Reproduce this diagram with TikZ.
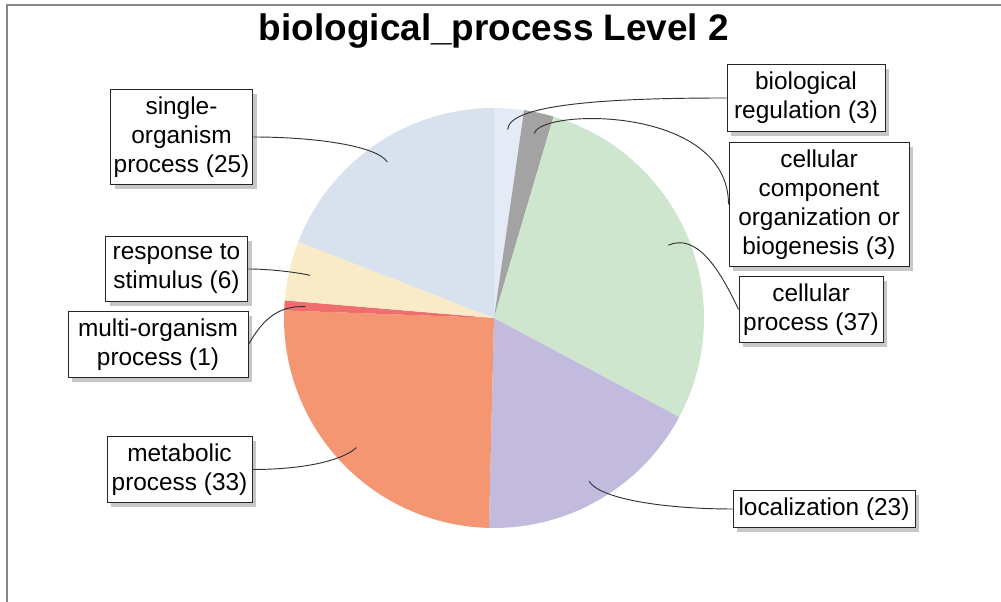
\documentclass[tikz,border=0pt]{standalone}
\usepackage{fontspec}
\setmainfont{Liberation Sans}
\usepackage{tikz}
\usetikzlibrary{calc,shadows}
\tikzset{
  lblbox/.style={draw=black!85, line width=0.7pt, fill=white, align=center,
                 minimum width=#1, inner xsep=2pt, inner ysep=5.6pt,
                 font=\fontsize{18.3}{21.75}\selectfont,
                 drop shadow={shadow xshift=3.3pt, shadow yshift=-3.3pt,
                              fill=black!22, opacity=1}},
  lblbox/.default=107pt,
  lead/.style  ={draw=black!80, line width=0.7pt},
  framel/.style={draw=black!47, line width=1.6pt},
  ttl/.style   ={font=\bfseries\fontsize{27.7}{33}\selectfont},
}
\definecolor{bioreg}  {RGB}{228,235,247}
\definecolor{cellcomp}{RGB}{163,163,163}
\definecolor{cellproc}{RGB}{205,230,205}
\definecolor{locz}    {RGB}{195,187,221}
\definecolor{metab}   {RGB}{245,150,115}
\definecolor{multiorg}{RGB}{240,110,110}
\definecolor{resp}    {RGB}{250,235,200}
\definecolor{single}  {RGB}{216,225,238}

\begin{document}
\begin{tikzpicture}[x=0.75pt,y=0.75pt]
  \useasboundingbox (0,0) rectangle (1001,602);
  \draw[framel] (7,0) -- (7,597) -- (1001,597);
  \node[ttl] (title) at (494,571) {biological\_process Level 2};

  % pie, 131 terms, clockwise from the top
  \coordinate (c) at (494,284);
  \fill[bioreg]   (c) -- ++(90:210) arc[start angle=90, end angle=81.756, radius=210] -- cycle;
  \fill[cellcomp] (c) -- ++(81.756:210) arc[start angle=81.756, end angle=73.511, radius=210] -- cycle;
  \fill[cellproc] (c) -- ++(73.511:210) arc[start angle=73.511, end angle=-28.168, radius=210] -- cycle;
  \fill[locz]     (c) -- ++(-28.168:210) arc[start angle=-28.168, end angle=-91.374, radius=210] -- cycle;
  \fill[metab]    (c) -- ++(-91.374:210) arc[start angle=-91.374, end angle=-182.061, radius=210] -- cycle;
  \fill[multiorg] (c) -- ++(-182.061:210) arc[start angle=-182.061, end angle=-184.809, radius=210] -- cycle;
  \fill[resp]     (c) -- ++(-184.809:210) arc[start angle=-184.809, end angle=-201.298, radius=210] -- cycle;
  \fill[single]   (c) -- ++(-201.298:210) arc[start angle=-201.298, end angle=-270, radius=210] -- cycle;

  \coordinate (aBio)    at ($(c)+(85.878:189)$);
  \coordinate (aComp)   at ($(c)+(77.634:189)$);
  \coordinate (aProc)   at ($(c)+(22.672:189)$);
  \coordinate (aLoc)    at ($(c)+(-59.771:189)$);
  \coordinate (aMetab)  at ($(c)+(-136.718:189)$);
  \coordinate (aMulti)  at ($(c)+(-183.435:189)$);
  \coordinate (aResp)   at ($(c)+(-193.054:189)$);
  \coordinate (aSingle) at ($(c)+(-235.649:189)$);

  \node[lblbox=107pt]    (singlebox) at (181.5,465) {single-\\organism\\process (25)};
  \node[lblbox=107pt]    (respbox)   at (176.5,333) {response to\\stimulus (6)};
  \node[lblbox=135pt]    (multibox)  at (158,257.5) {multi-organism\\process (1)};
  \node[lblbox=108.75pt] (metabbox)  at (179.5,132.5) {metabolic\\process (33)};
  \node[lblbox=118.5pt]  (biobox)    at (806,504) {biological\\regulation (3)};
  \node[lblbox=135pt]    (compbox)   at (819,397.5) {cellular\\component\\organization or\\biogenesis (3)};
  \node[lblbox=108pt]    (procbox)   at (811,292.5) {cellular\\process (37)};
  \node[lblbox=136.5pt]  (locbox)    at (824,93) {localization (23)};

  \draw[lead] (aBio) to[out=86, in=180, out distance=19pt, in distance=90pt] (biobox.west);
  \draw[lead] (aComp) to[out=78, in=90, out distance=19pt, in distance=75pt] (compbox.west);
  \draw[lead] (aProc) to[out=23, in=115, out distance=22pt, in distance=37pt] (procbox.west);
  \draw[lead] (aLoc) to[out=-60, in=180, out distance=15pt, in distance=52pt] (locbox.west);
  \draw[lead] (aMetab) to[out=223, in=0, out distance=15pt, in distance=37pt] (metabbox.east);
  \draw[lead] (aMulti) to[out=177, in=60, out distance=22pt, in distance=19pt] (multibox.east);
  \draw[lead] (aResp) to[out=167, in=0, out distance=8pt, in distance=18pt] (respbox.east);
  \draw[lead] (aSingle) to[out=124, in=0, out distance=15pt, in distance=45pt] (singlebox.east);
\end{tikzpicture}
\end{document}
